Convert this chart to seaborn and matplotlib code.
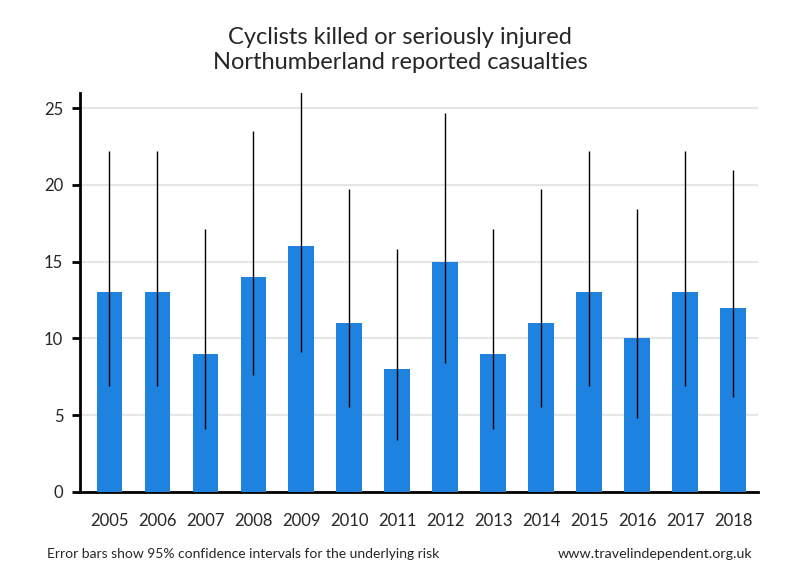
import matplotlib
matplotlib.use("Agg")
import matplotlib.pyplot as plt
import pandas as pd
import seaborn as sns

# values
years = ['2005', '2006', '2007', '2008', '2009', '2010', '2011',
         '2012', '2013', '2014', '2015', '2016', '2017', '2018']
casualties = [13, 13, 9, 14, 16, 11, 8, 15, 9, 11, 13, 10, 13, 12]
ci_low = [6.9, 6.9, 4.1, 7.6, 9.1, 5.5, 3.4, 8.4, 4.1, 5.5, 6.9, 4.8, 6.9, 6.2]
ci_high = [22.2, 22.2, 17.1, 23.5, 26.3, 19.7, 15.8, 24.7, 17.1, 19.7,
           22.2, 18.4, 22.2, 21.0]

BAR_COLOR = '#1e82e0'


def show(df):
    sns.set_style("white")
    plt.rcParams['font.family'] = ['Lato', 'DejaVu Sans']

    fig = plt.figure(figsize=(8, 5.8), dpi=100)
    ax = fig.add_axes([0.1, 0.152, 0.8475, 0.688])

    sns.barplot(data=df, x='year', y='n', color=BAR_COLOR, width=0.53,
                saturation=1, errorbar=None, linewidth=0, ax=ax, zorder=3)

    yerr = [df['n'] - df['low'], df['high'] - df['n']]
    ax.errorbar(range(len(df)), df['n'], yerr=yerr, fmt='none',
                ecolor='black', elinewidth=1, capsize=0, zorder=4)

    ax.set_ylim(0, 26)
    ax.set_xlim(-0.61, len(df) - 0.48)
    ax.set_yticks([0, 5, 10, 15, 20, 25])
    ax.yaxis.grid(True, color='#e6e6e6', linewidth=1.5, zorder=0)
    ax.set_axisbelow(True)

    for side in ['top', 'right']:
        ax.spines[side].set_visible(False)
    for side in ['left', 'bottom']:
        ax.spines[side].set_color('black')
        ax.spines[side].set_linewidth(2)

    ax.tick_params(axis='y', length=6, width=2, color='black',
                   labelsize=12, pad=6, left=True)
    ax.tick_params(axis='x', length=0, labelsize=12, pad=15)
    ax.set_xlabel('')
    ax.set_ylabel('')

    fig.text(0.5, 0.914, 'Cyclists killed or seriously injured\n'
             'Northumberland reported casualties',
             ha='center', va='center', fontsize=17, linespacing=1.2)
    fig.text(0.059, 0.044,
             'Error bars show 95% confidence intervals for the underlying risk',
             ha='left', va='center', fontsize=10)
    fig.text(0.94, 0.044, 'www.travelindependent.org.uk',
             ha='right', va='center', fontsize=10.3)

    fig.savefig('out.png', dpi=100)


def main():
    df = pd.DataFrame({'year': years, 'n': casualties,
                       'low': ci_low, 'high': ci_high})
    show(df)


if __name__ == '__main__':
    main()
